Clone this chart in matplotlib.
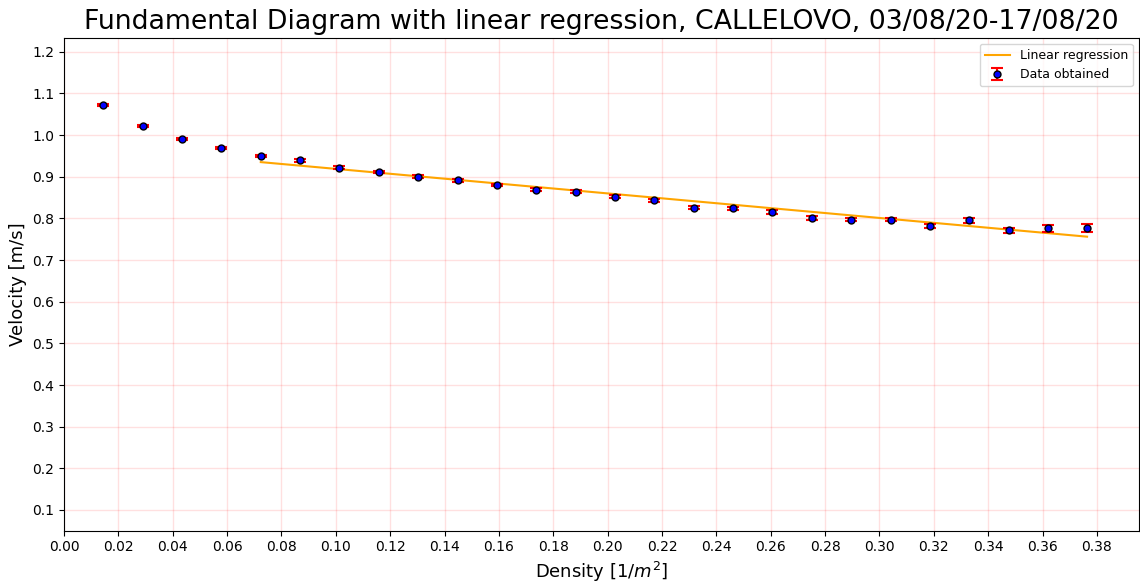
import numpy as np
import matplotlib
matplotlib.use("Agg")
import matplotlib.pyplot as plt

density = [0.0144, 0.0289, 0.0434, 0.0579, 0.0724, 0.0869, 0.1013, 0.1158,
           0.1303, 0.1448, 0.1593, 0.1737, 0.1882, 0.2027, 0.2172, 0.2317,
           0.2461, 0.2606, 0.2751, 0.2896, 0.3041, 0.3185, 0.3330, 0.3475,
           0.3620, 0.3764]
velocity = [1.072, 1.022, 0.990, 0.969, 0.950, 0.939, 0.922, 0.911,
            0.900, 0.891, 0.880, 0.869, 0.864, 0.852, 0.843, 0.826,
            0.824, 0.815, 0.801, 0.797, 0.797, 0.782, 0.795, 0.771,
            0.776, 0.777]
velocity_err = [0.003, 0.003, 0.003, 0.003, 0.003, 0.003, 0.003, 0.003,
                0.003, 0.003, 0.003, 0.003, 0.003, 0.003, 0.004, 0.003,
                0.004, 0.005, 0.004, 0.004, 0.004, 0.005, 0.005, 0.006,
                0.009, 0.009]
reg_x = [0.0724, 0.3764]
reg_y = [0.935, 0.756]

fig = plt.figure(figsize=(11.4, 5.85), dpi=100)
ax = fig.add_axes([64/1140, 1-530.7/585, (1139-64)/1140, (530.7-37.7)/585])

ax.plot(reg_x, reg_y, color='orange', lw=1.5, label='Linear regression', zorder=2)
ax.errorbar(density, velocity, yerr=velocity_err, fmt='o', color='red',
            ecolor='red', markerfacecolor='blue', markeredgecolor='black',
            markersize=5, capsize=4.5, capthick=1.5, elinewidth=1.5,
            label='Data obtained', zorder=3)

ax.set_xlim(0, 0.3955)
ax.set_ylim(0.0503, 1.2336)
ax.set_xticks(np.arange(0, 0.381, 0.02))
ax.set_yticks(np.arange(0.1, 1.21, 0.1))
ax.xaxis.set_major_formatter(matplotlib.ticker.FormatStrFormatter('%.2f'))
ax.yaxis.set_major_formatter(matplotlib.ticker.FormatStrFormatter('%.1f'))
ax.tick_params(labelsize=10)
ax.grid(True, color='red', alpha=0.12, linestyle='-', linewidth=1)

ax.set_xlabel('Density [$1/m^2$]', fontsize=13)
ax.set_ylabel('Velocity [m/s]', fontsize=13)
ax.set_title('Fundamental Diagram with linear regression, CALLELOVO, 03/08/20-17/08/20', fontsize=19.3)
ax.legend(loc='upper right', fontsize=9)

fig.savefig('out.png', dpi=100)
